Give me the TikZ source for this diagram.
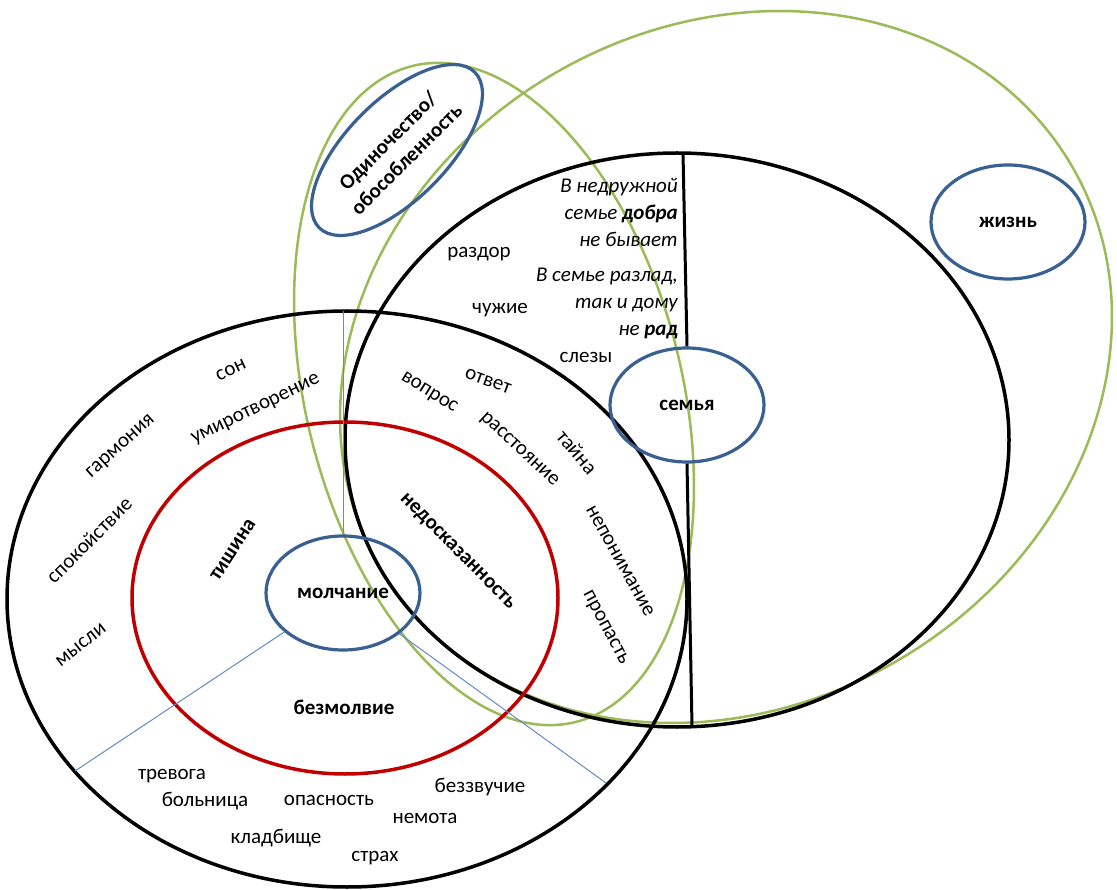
\documentclass[tikz,border=0pt]{standalone}
\usepackage{fontspec}
\setmainfont{Carlito}
\usetikzlibrary{shapes.geometric}
\definecolor{cred}{RGB}{192,0,0}
\definecolor{cblue}{RGB}{58,95,145}
\definecolor{cgreen}{RGB}{155,187,89}
\definecolor{cthin}{RGB}{100,140,190}
\begin{document}
\begin{tikzpicture}[x=1pt,y=-1pt,
  lbl/.style={inner sep=0pt, font=\fontsize{21}{26}\selectfont},
  blbl/.style={inner sep=0pt, font=\fontsize{21}{26}\selectfont\bfseries},
  prov/.style={inner sep=0pt, anchor=east, align=right, font=\fontsize{21}{27}\selectfont\itshape},
  bubble/.style={ellipse, draw=cblue, line width=3.2pt, minimum width=154pt, minimum height=114pt, inner sep=0pt, font=\fontsize{21}{26}\selectfont\bfseries},
  blackring/.style={draw=black, line width=3.5pt},
  redring/.style={draw=cred, line width=3.5pt},
  greenring/.style={draw=cgreen, line width=2.5pt},
  thinline/.style={draw=cthin, line width=1pt}]
\useasboundingbox (0,0) rectangle (1117,890);
\fill[white] (0,0) rectangle (1117,890);

% green rings
\draw[greenring, rotate around={14:(494,394)}] (494,394) ellipse [x radius=188pt, y radius=338pt];
\draw[greenring, rotate around={30:(726,367)}] (726,367) ellipse [x radius=400pt, y radius=340pt];
% black rings
\draw[blackring] (347,599) ellipse [x radius=340pt, y radius=288pt];
\draw[blackring] (677,440) ellipse [x radius=332pt, y radius=287pt];
% red ring
\draw[redring] (345,598) ellipse [x radius=213pt, y radius=176pt];

% bubbles
\node[bubble] (molch) at (343,593) {молчание};
\node[bubble] (semya) at (687,405) {семья};
\node[bubble] (zhizn) at (1008,222) {жизнь};
\node[bubble, rotate=45, minimum width=220pt, minimum height=100pt, align=center] (odin) at (397,150) {Одиночество/\\обособленность};

% connectors
\coordinate (vtop) at (683,153);
\coordinate (vbot) at (692,726);
\draw[blackring, line width=3pt] (vtop) -- (semya.north);
\draw[blackring, line width=3pt] (semya.south) -- (vbot);
\coordinate (mtop) at (343,311);
\coordinate (mll) at (75,771);
\coordinate (mlr) at (606,783);
\draw[thinline] (molch.north) -- (mtop);
\draw[thinline] (molch) -- (mll);
\draw[thinline] (molch) -- (mlr);

% family region
\node[prov] (p1) at (678,212) {В недружной\\семье \textbf{добра}\\не бывает};
\node[prov] (p2) at (678,303) {В семье разлад,\\так и дому\\не \textbf{рад}};
\node[lbl] (t1) at (479,254) {раздор};
\node[lbl] (t2) at (500,310) {чужие};
\node[lbl] (t3) at (586,357) {слезы};

% overlap region
\node[lbl, rotate=-32] (t4) at (429,393) {вопрос};
\node[lbl, rotate=-20] (t5) at (488,381) {ответ};
\node[lbl, rotate=-43] (t6) at (519,450) {расстояние};
\node[lbl, rotate=-50] (t7) at (577,452) {тайна};
\node[lbl, rotate=-61] (t8) at (620,561) {непонимание};
\node[lbl, rotate=-62] (t9) at (605,628) {пропасть};
\node[blbl, rotate=-45] (t10) at (457,552) {недосказанность};

% left region
\node[blbl, rotate=57] (t11) at (233,550) {тишина};
\node[lbl, rotate=45] (t12) at (89,540) {спокойствие};
\node[lbl, rotate=42] (t13) at (121,447) {гармония};
\node[lbl, rotate=38] (t14) at (81,645) {мысли};
\node[lbl, rotate=25] (t15) at (231,370) {сон};
\node[lbl, rotate=26] (t16) at (256,410) {умиротворение};

% bottom region
\node[blbl] (t17) at (344,707) {безмолвие};
\node[lbl] (t18) at (172,776) {тревога};
\node[lbl] (t19) at (205,801) {больница};
\node[lbl] (t20) at (329,800) {опасность};
\node[lbl] (t21) at (276,838) {кладбище};
\node[lbl] (t22) at (375,858) {страх};
\node[lbl] (t23) at (425,818) {немота};
\node[lbl] (t24) at (480,787) {беззвучие};
\end{tikzpicture}
\end{document}
